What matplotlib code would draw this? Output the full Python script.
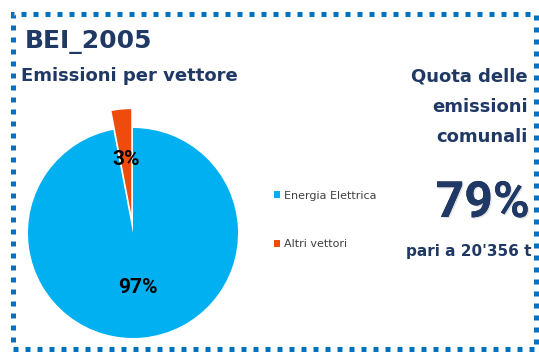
import matplotlib
matplotlib.use("Agg")
import matplotlib.pyplot as plt
import matplotlib.patheffects as pe
from matplotlib.patches import Rectangle

# data
vettori = ["Energia Elettrica", "Altri vettori"]
quote = [97, 3]
colori = ["#00B0F0", "#EE4B0C"]
esplodi = [0, 0.18]

titolo = "BEI_2005"
sottotitolo = "Emissioni per vettore"
quota_label = ["Quota delle", "emissioni", "comunali"]
quota_valore = "79%"
quota_totale = "pari a 20'356 t"

NAVY = "#1F3864"
W, H = 539, 353
WIDE = ["DejaVu Sans"]
NARROW = ["Roboto", "DejaVu Sans"]

fig = plt.figure(figsize=(W / 100, H / 100), dpi=100)


def px(x, y):
    # pixel coords (from top-left) -> figure fraction
    return x / W, 1 - y / H


# pie axes: centre (133, 233), radius 105 px, limits +-1.2
r = 105
lim = 1.2
side = 2 * lim * r
cx, cy = 133, 233
ax = fig.add_axes([(cx - side / 2) / W, (H - cy - side / 2) / H, side / W, side / H])
wedges, _, pct = ax.pie(quote, colors=colori, explode=esplodi, startangle=90,
                        counterclock=False, autopct="%d%%", pctdistance=0.52,
                        wedgeprops=dict(linewidth=0),
                        textprops=dict(fontsize=15, fontweight="bold", fontstyle="normal",
                                       color="black", family=NARROW))
ax.set_xlim(-lim, lim)
ax.set_ylim(-lim, lim)
ax.set_aspect("equal")
ax.axis("off")

fig.legend(wedges, vettori, loc="center left", bbox_to_anchor=px(268, 220),
           frameon=False, prop=dict(family=WIDE, size=8), labelcolor="#404040",
           handlelength=0.6, handleheight=0.6, handletextpad=0.3,
           labelspacing=3.5, borderpad=0)

# titles
fig.text(*px(25, 48), titolo, fontsize=18, fontweight="bold", color=NAVY,
         va="baseline", family=WIDE)
fig.text(*px(21, 81), sottotitolo, fontsize=13, fontweight="bold", color=NAVY,
         va="baseline", family=WIDE)

# right block
for i, s in enumerate(quota_label):
    fig.text(*px(528, 82 + 30 * i), s, fontsize=13, fontweight="bold",
             color=NAVY, ha="right", va="baseline", family=WIDE)
fig.text(*px(530, 217), quota_valore, fontsize=36, fontweight="bold", fontstyle="normal",
         color=NAVY, ha="right", va="baseline", family=NARROW,
         path_effects=[pe.withSimplePatchShadow(offset=(1, -1), shadow_rgbFace="#a0a0a0", alpha=0.3),
                       pe.Normal()])
fig.text(*px(531, 256), quota_totale, fontsize=11, fontweight="bold", color=NAVY,
         ha="right", va="baseline", family=WIDE)

# dotted frame
x0, y0 = px(13, 349)
x1, y1 = px(536, 14)
fig.patches.append(Rectangle((x0, y0), x1 - x0, y1 - y0, transform=fig.transFigure,
                             fill=False, edgecolor="#0070C0", linewidth=3.6,
                             linestyle=(0, (1, 1.4)), capstyle="butt"))

fig.savefig("out.png", dpi=100)
